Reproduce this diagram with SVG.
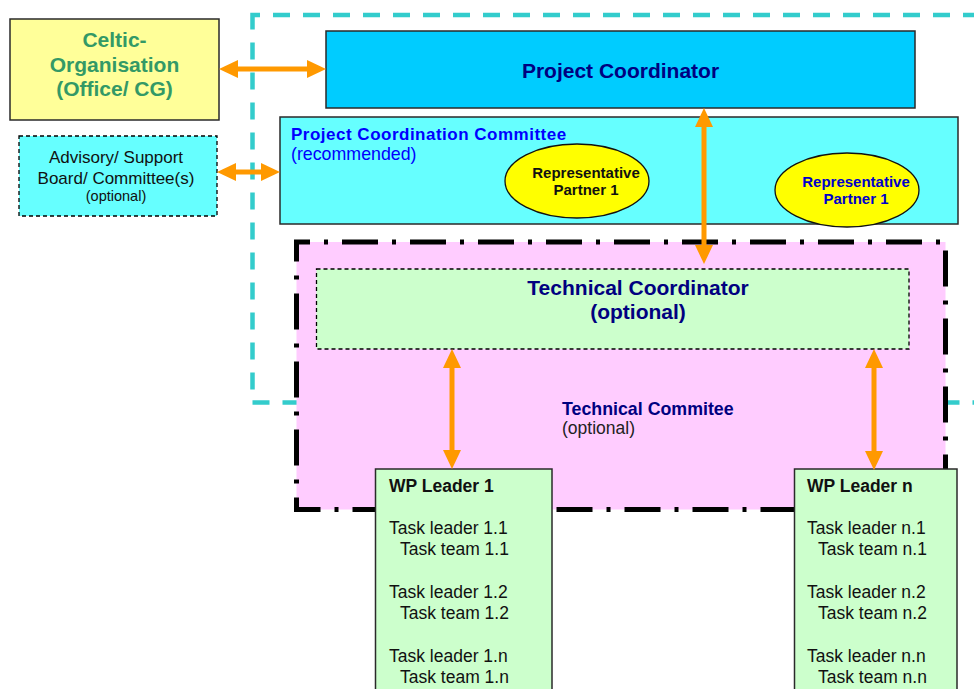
<svg xmlns="http://www.w3.org/2000/svg" width="974" height="689" viewBox="0 0 974 689">
<style>
text{font-family:"Liberation Sans",Arial,sans-serif}
.b{font-weight:bold}
.box{stroke:#2a2a2a;stroke-width:1.5}
.dash{stroke:#000;stroke-width:1.3;stroke-dasharray:4 3}
.arr{stroke:#FF9900;stroke-width:5;fill:none;marker-start:url(#ah);marker-end:url(#ah)}
.t{font-size:17.5px;fill:#111}
</style>
<defs>
<marker id="ah" markerUnits="userSpaceOnUse" markerWidth="19" markerHeight="18" refX="13" refY="9" orient="auto-start-reverse" viewBox="0 0 19 18">
<path d="M0,0 L19,9 L0,18 z" fill="#FF9900"/>
</marker>
</defs>
<rect width="974" height="689" fill="#fff"/>
<g id="project-boundary">
<rect x="252.5" y="15" width="800" height="387.5" fill="none" stroke="#33CCCC" stroke-width="4.5" stroke-dasharray="17 13" stroke-dashoffset="9.5"/>
</g>
<g id="celtic">
<rect class="box" x="10" y="19" width="209" height="101" fill="#FFFF99"/>
<text class="b" x="114.5" text-anchor="middle" font-size="21" fill="#339966"><tspan x="114.5" y="47">Celtic-</tspan><tspan x="114.5" y="71.5">Organisation</tspan><tspan x="114.5" y="96">(Office/ CG)</tspan></text>
</g>
<g id="advisory">
<rect class="dash" x="19" y="136" width="198" height="80" fill="#66FFFF"/>
<text x="116" text-anchor="middle" font-size="17" fill="#111"><tspan x="116" y="163">Advisory/ Support</tspan><tspan x="116" y="184">Board/ Committee(s)</tspan></text>
<text x="116" y="201" text-anchor="middle" font-size="14.5" fill="#111">(optional)</text>
</g>
<g id="project-coordinator">
<rect class="box" x="326" y="31" width="589" height="77" fill="#00CCFF"/>
<text class="b" x="620.5" y="78" text-anchor="middle" font-size="21" fill="#000080">Project Coordinator</text>
</g>
<g id="pcc">
<rect class="box" x="280" y="117" width="678" height="107" fill="#66FFFF"/>
<text class="b" x="291" y="140" font-size="17" letter-spacing="0.5" fill="#0000FF">Project Coordination Committee</text>
<text x="291" y="160" font-size="17.8" fill="#0000FF">(recommended)</text>
</g>
<g id="rep1">
<ellipse cx="577" cy="181" rx="72" ry="37" fill="#FFFF00" stroke="#111" stroke-width="1.3"/>
<text class="b" text-anchor="middle" font-size="15" fill="#111"><tspan x="586" y="178">Representative</tspan><tspan x="586" y="195">Partner 1</tspan></text>
</g>
<g id="rep2">
<ellipse cx="847" cy="190" rx="72" ry="37" fill="#FFFF00" stroke="#111" stroke-width="1.3"/>
<text class="b" text-anchor="middle" font-size="15" fill="#0000CC"><tspan x="856" y="187">Representative</tspan><tspan x="856" y="204">Partner 1</tspan></text>
</g>
<g id="technical-committee">
<rect x="296.5" y="242" width="649" height="267.5" fill="#FFCCFF" stroke="#000" stroke-width="5" stroke-dasharray="36 14 4 14" stroke-dashoffset="22.5"/>
<text class="b" x="562" y="415" font-size="17.8" fill="#000080">Technical Commitee</text>
<text x="562" y="434" font-size="17.5" fill="#222">(optional)</text>
</g>
<g id="technical-coordinator">
<rect class="dash" x="316.5" y="269" width="592.5" height="80" fill="#CCFFCC"/>
<text class="b" text-anchor="middle" font-size="21" fill="#000080"><tspan x="638" y="295">Technical Coordinator</tspan><tspan x="638" y="319">(optional)</tspan></text>
</g>
<g id="wp1">
<rect class="box" x="375.5" y="469" width="176.5" height="240" fill="#CCFFCC"/>
<text class="b t" x="389" y="492">WP Leader 1</text>
<text class="t" x="389" y="534">Task leader 1.1</text>
<text class="t" x="400" y="555">Task team 1.1</text>
<text class="t" x="389" y="598">Task leader 1.2</text>
<text class="t" x="400" y="619">Task team 1.2</text>
<text class="t" x="389" y="662">Task leader 1.n</text>
<text class="t" x="400" y="683">Task team 1.n</text>
</g>
<g id="wpn">
<rect class="box" x="794.5" y="469" width="162.5" height="240" fill="#CCFFCC"/>
<text class="b t" x="807" y="492">WP Leader n</text>
<text class="t" x="807" y="534">Task leader n.1</text>
<text class="t" x="818" y="555">Task team n.1</text>
<text class="t" x="807" y="598">Task leader n.2</text>
<text class="t" x="818" y="619">Task team n.2</text>
<text class="t" x="807" y="662">Task leader n.n</text>
<text class="t" x="818" y="683">Task team n.n</text>
</g>
<g id="connectors">
<line class="arr" x1="225" y1="69" x2="320" y2="69"/>
<line class="arr" x1="223" y1="172" x2="274" y2="172"/>
<line class="arr" x1="704" y1="114" x2="704" y2="258"/>
<line class="arr" x1="452" y1="355" x2="452" y2="463"/>
<line class="arr" x1="874" y1="355" x2="874" y2="464"/>
</g>
</svg>
